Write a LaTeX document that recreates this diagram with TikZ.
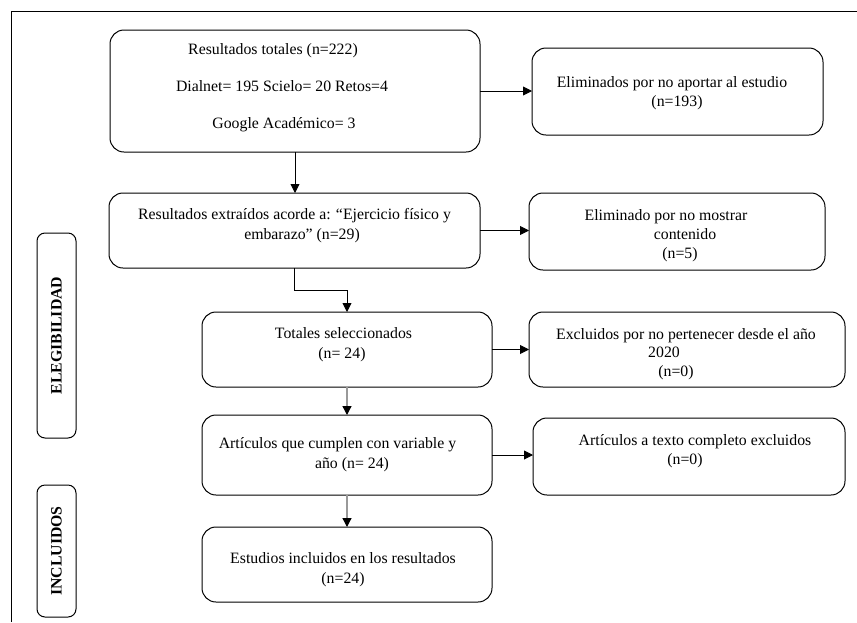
\documentclass[tikz,border=0pt]{standalone}
\usepackage{fontspec}
\setmainfont{Liberation Serif}
\usetikzlibrary{arrows.meta}
\tikzset{
  box/.style={draw=black, line width=1pt, rounded corners=14pt, inner sep=0pt, outer sep=0pt},
  sidebox/.style={draw=black, line width=1pt, rounded corners=8pt, inner sep=0pt, outer sep=0pt},
  txt/.style={anchor=base, inner sep=0pt, font=\fontsize{15.8pt}{20pt}\selectfont},
  side/.style={rotate=90, inner sep=0pt, font=\fontsize{15.8pt}{20pt}\selectfont\bfseries},
  arr/.style={line width=0.9pt, draw=black, -{Triangle[length=9pt,width=9pt,color=black]}},
  grayarr/.style={line width=1.3pt, draw=black!40, -{Triangle[length=9pt,width=9pt,color=black]}},
  frameline/.style={line width=1pt, draw=black}
}
\begin{document}
\begin{tikzpicture}[x=1pt,y=-1pt]
\useasboundingbox (0,0) rectangle (857,622);
% frame
\coordinate (fa) at (857,11);
\coordinate (fb) at (11,11);
\coordinate (fc) at (11,622);
\draw[frameline] (fa) -- (fb) -- (fc);

% boxes
\node[box, minimum width=370pt, minimum height=122pt] (top) at (295,91) {};
\node[box, minimum width=291pt, minimum height=87pt] (r1) at (677.5,91.5) {};
\node[box, minimum width=371pt, minimum height=75pt] (b2) at (294.5,230.5) {};
\node[box, minimum width=296pt, minimum height=77pt] (r2) at (677,231.5) {};
\node[box, minimum width=290pt, minimum height=75pt] (b3) at (347,349.5) {};
\node[box, minimum width=316pt, minimum height=75pt] (r3) at (687,349.5) {};
\node[box, minimum width=290pt, minimum height=80pt] (b4) at (347,455) {};
\node[box, minimum width=312pt, minimum height=77pt] (r4) at (689,456.5) {};
\node[box, minimum width=290pt, minimum height=75pt] (b5) at (347,564.5) {};
\node[sidebox, minimum width=39pt, minimum height=205pt] (eleg) at (56.5,335.5) {};
\node[sidebox, minimum width=39pt, minimum height=132pt] (incl) at (56.5,551) {};

% texts
\node[txt] (t1a) at (273,54) {Resultados totales (n=222)};
\node[txt] (t1b) at (282,91) {Dialnet= 195 Scielo= 20 Retos=4};
\node[txt] (t1c) at (284,128) {Google Académico= 3};

\node[txt] (tr1a) at (672,87) {Eliminados por no aportar al estudio};
\node[txt] (tr1b) at (677,106) {(n=193)};

\node[txt] (t2a) at (294.5,219) {Resultados extraídos acorde a: “Ejercicio físico y};
\node[txt] (t2b) at (302,239) {embarazo” (n=29)};

\node[txt] (tr2a) at (666,220) {Eliminado por no mostrar};
\node[txt] (tr2b) at (685,239) {contenido};
\node[txt] (tr2c) at (680,258) {(n=5)};

\node[txt] (t3a) at (343.5,338) {Totales seleccionados};
\node[txt] (t3b) at (342,358) {(n= 24)};

\node[txt] (tr3a) at (686,339) {Excluidos por no pertenecer desde el año};
\node[txt] (tr3b) at (664,357) {2020};
\node[txt] (tr3c) at (676,376) {(n=0)};

\node[txt] (t4a) at (337.5,448) {Artículos que cumplen con variable y};
\node[txt] (t4b) at (352,468) {año (n= 24)};

\node[txt] (tr4a) at (695,445) {Artículos a texto completo excluidos};
\node[txt] (tr4b) at (685,464) {(n=0)};

\node[txt] (t5a) at (343,563) {Estudios incluidos en los resultados};
\node[txt] (t5b) at (343,583) {(n=24)};

\node[side] (selig) at (eleg.center) {ELEGIBILIDAD};
\node[side] (sincl) at (incl.center) {INCLUIDOS};

% connectors
\draw[arr] (top.east) -- (top.east -| r1.west);
\draw[arr] (top.south) -- (top.south |- b2.north);
\draw[arr] (b2.east) -- (b2.east -| r2.west);
\draw[arr] (b2.south) -- ++(0,22) -| (b3.north);
\draw[arr] (b3.east) -- (b3.east -| r3.west);
\draw[grayarr] (b3.south) -- (b4.north);
\draw[arr] (b4.east) -- (b4.east -| r4.west);
\draw[grayarr] (b4.south) -- (b5.north);
\end{tikzpicture}
\end{document}
